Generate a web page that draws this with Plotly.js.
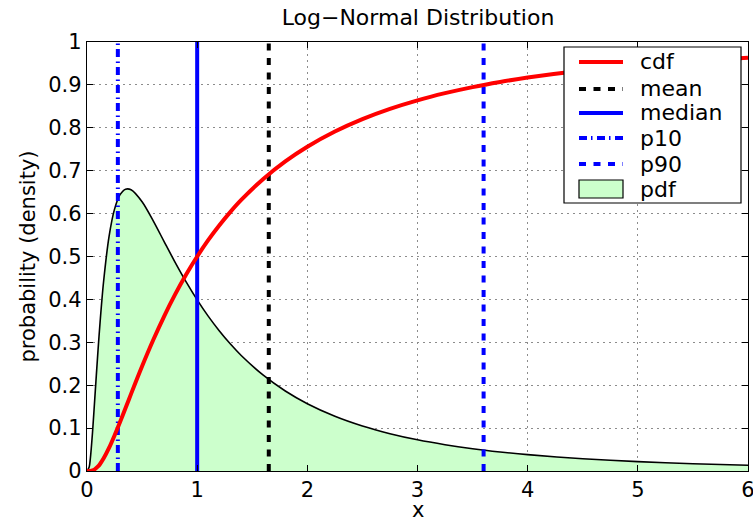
<!DOCTYPE html>
<html>
<head>
<meta charset="utf-8">
<script src="https://cdn.plot.ly/plotly-3.0.1.min.js"></script>
<style>
  html, body { margin: 0; padding: 0; background: #fff; }
  #chart { width: 753px; height: 521px; }
</style>
</head>
<body>
<div id="chart"></div>
<script>
// Sample points along x for the log-normal curves
const xs = [0, 0.02, 0.03, 0.05, 0.07, 0.1, 0.12, 0.15, 0.2, 0.25, 0.3, 0.35, 0.4, 0.5, 0.6, 0.7,
            0.8, 0.9, 1.0, 1.1, 1.2, 1.3, 1.4, 1.6, 1.8, 2.0, 2.25, 2.5, 2.75, 3.0, 3.25, 3.5, 3.75,
            4.0, 4.5, 5.0, 5.5, 6.0];
// Probability density at each x
const pdfVals = [0, 0.0095, 0.0284, 0.0898, 0.166, 0.2816, 0.3511, 0.4399, 0.5464, 0.6104, 0.6442,
                 0.657, 0.6555, 0.6275, 0.5836, 0.5348, 0.4864, 0.4408, 0.3989, 0.361, 0.327, 0.2965,
                 0.2693, 0.2233, 0.1865, 0.1569, 0.1276, 0.1049, 0.087, 0.0727, 0.0613, 0.052, 0.0444,
                 0.0381, 0.0286, 0.0219, 0.017, 0.0134];
// Cumulative probability at each x
const cdfVals = [0, 0.00005, 0.0002, 0.00137, 0.0039, 0.01065, 0.017, 0.0289, 0.0538, 0.0829, 0.1143,
                 0.1469, 0.1798, 0.2441, 0.3047, 0.3607, 0.4117, 0.458, 0.5, 0.538, 0.5723, 0.6035,
                 0.6318, 0.6808, 0.7217, 0.7559, 0.7913, 0.8202, 0.8441, 0.864, 0.8807, 0.8949, 0.9069,
                 0.9172, 0.9337, 0.9462, 0.9559, 0.9634];

// Summary statistics shown as vertical markers
const statNames = ['mean', 'median', 'p10', 'p90'];
const statValues = [1.65, 1.0, 0.28, 3.6];

// Legend entries, top to bottom
const legendLabels = ['cdf', 'mean', 'median', 'p10', 'p90', 'pdf'];

const FONT = 'DejaVu Sans, Verdana, sans-serif';
const TXT = 21;

const styles = {
  cdf:    { color: '#ff0000', width: 4,   dash: 'solid' },
  mean:   { color: '#000000', width: 4,   dash: '7px,7.5px' },
  median: { color: '#0000ff', width: 4,   dash: 'solid' },
  p10:    { color: '#0000ff', width: 4,   dash: '8px,4px,1.5px,4.5px' },
  p90:    { color: '#0000ff', width: 4,   dash: '7px,7.5px' },
  pdf:    { color: '#000000', width: 1.6, fill: '#ccffcc' }
};

const traces = [];

// Shaded density
traces.push({
  x: xs, y: pdfVals, name: 'pdf', type: 'scatter', mode: 'lines',
  fill: 'tozeroy', fillcolor: styles.pdf.fill,
  line: { color: styles.pdf.color, width: styles.pdf.width, shape: 'spline', smoothing: 0.8 },
  hoverinfo: 'skip'
});

// Vertical statistic lines
statNames.forEach((n, i) => {
  const s = styles[n];
  traces.push({
    x: [statValues[i], statValues[i]], y: [0, 1], name: n,
    type: 'scatter', mode: 'lines',
    line: { color: s.color, width: s.width, dash: s.dash },
    hoverinfo: 'skip'
  });
});

// Cumulative distribution
traces.push({
  x: xs, y: cdfVals, name: 'cdf', type: 'scatter', mode: 'lines', cliponaxis: false,
  line: { color: styles.cdf.color, width: styles.cdf.width, shape: 'spline', smoothing: 0.8 },
  hoverinfo: 'skip'
});

// Plot-area geometry in pixels, used to place the boxed legend
const M = { l: 87, r: 5, t: 42, b: 50 };
const W = 753, H = 521;
const PW = W - M.l - M.r, PH = H - M.t - M.b;
const px = v => (v - M.l) / PW;
const py = v => (H - M.b - v) / PH;

const shapes = [];
const annotations = [];

// Legend frame
shapes.push({
  type: 'rect', xref: 'paper', yref: 'paper',
  x0: px(564), x1: px(741), y0: py(203), y1: py(47),
  fillcolor: '#ffffff', line: { color: '#000', width: 1.2 }, layer: 'above'
});

const rowY = [62, 89, 113, 138, 164, 189];
legendLabels.forEach((lab, i) => {
  const s = styles[lab];
  if (lab === 'pdf') {
    shapes.push({
      type: 'rect', xref: 'paper', yref: 'paper',
      x0: px(579), x1: px(623), y0: py(rowY[i] + 9), y1: py(rowY[i] - 9),
      fillcolor: s.fill, line: { color: '#000', width: 1.2 }, layer: 'above'
    });
  } else {
    shapes.push({
      type: 'line', xref: 'paper', yref: 'paper',
      x0: px(579), x1: px(623), y0: py(rowY[i]), y1: py(rowY[i]),
      line: { color: s.color, width: s.width, dash: s.dash }, layer: 'above'
    });
  }
  annotations.push({
    text: lab, xref: 'paper', yref: 'paper', showarrow: false,
    x: px(638), y: py(rowY[i]), xanchor: 'left', yanchor: 'middle',
    font: { family: FONT, size: 22, color: '#000' }
  });
});

// x-axis label, set just below the tick labels
annotations.push({
  text: 'x', xref: 'paper', yref: 'paper', showarrow: false,
  x: 0.5, y: py(510), xanchor: 'center', yanchor: 'middle',
  font: { family: FONT, size: TXT, color: '#000' }
});

const axisCommon = {
  showline: true, linecolor: '#000', linewidth: 1.2, mirror: 'ticks',
  ticks: 'inside', ticklen: 6, tickcolor: '#000', tickwidth: 1,
  showgrid: true, gridcolor: '#8c8c8c', griddash: '2px,4px', gridwidth: 1,
  zeroline: false, ticklabeloverflow: 'allow',
  tickfont: { family: FONT, size: TXT, color: '#000' }
};

const layout = {
  width: W, height: H,
  margin: M,
  paper_bgcolor: '#fff', plot_bgcolor: '#fff',
  showlegend: false,
  title: {
    text: 'Log\u2212Normal Distribution',
    font: { family: FONT, size: 22, color: '#000' },
    x: px(418), xref: 'paper', xanchor: 'center',
    y: 1 - 17 / H, yref: 'container', yanchor: 'middle'
  },
  xaxis: Object.assign({}, axisCommon, {
    range: [0, 6], dtick: 1, tick0: 0
  }),
  yaxis: Object.assign({}, axisCommon, {
    range: [0, 1], dtick: 0.1, tick0: 0,
    title: { text: 'probability (density)', font: { family: FONT, size: TXT, color: '#000' }, standoff: 6 }
  }),
  shapes: shapes,
  annotations: annotations
};

Plotly.newPlot('chart', traces, layout, { staticPlot: true, displayModeBar: false });
</script>
</body>
</html>
